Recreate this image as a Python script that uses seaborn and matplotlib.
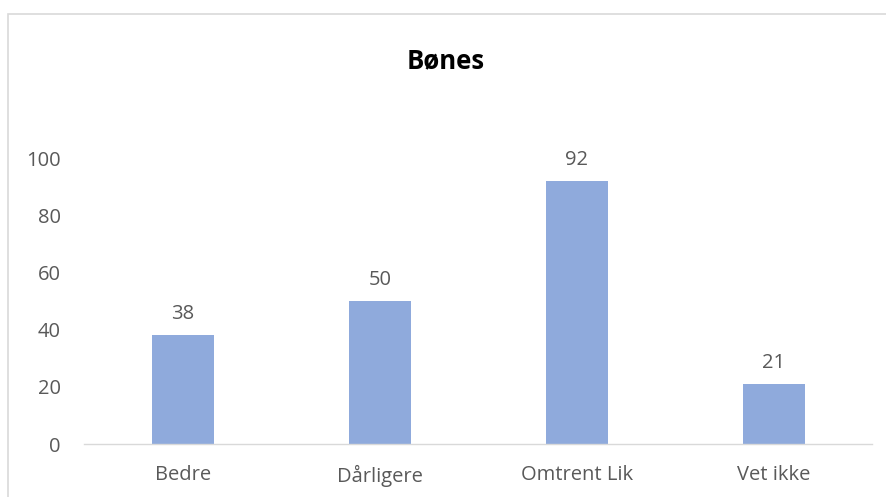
import matplotlib
matplotlib.use("Agg")
import matplotlib.pyplot as plt
import seaborn as sns
import pandas as pd
from matplotlib.patches import Rectangle

categories = ["Bedre", "Dårligere", "Omtrent Lik", "Vet ikke"]
values = [38, 50, 92, 21]
yticks = [0, 20, 40, 60, 80, 100]
title = "Bønes"

sns.set_theme(style="white")
plt.rcParams["font.family"] = ["Open Sans", "DejaVu Sans"]

text_color = "#595959"
bar_color = "#8FAADC"
line_color = "#D9D9D9"

df = pd.DataFrame({"kategori": categories, "antall": values})

fig = plt.figure(figsize=(8.87, 4.97), dpi=100)
ax = fig.add_axes([84.5 / 887, 1 - 444 / 497, (872.5 - 84.5) / 887, (444 - 158) / 497])

sns.barplot(data=df, x="kategori", y="antall", color=bar_color, saturation=1,
            width=0.315, ax=ax, edgecolor="none")

ax.set_ylim(0, 100)
ax.set_xlim(-0.5, len(categories) - 0.5)
ax.set_yticks(yticks)
ax.set_yticklabels([str(t) for t in yticks])
ax.set_xlabel("")
ax.set_ylabel("")
ax.tick_params(axis="both", length=0, colors=text_color, labelsize=14.5)
ax.tick_params(axis="y", pad=17)
ax.tick_params(axis="x", pad=15)
for s in ["top", "right", "left"]:
    ax.spines[s].set_visible(False)
ax.spines["bottom"].set_color(line_color)
ax.spines["bottom"].set_linewidth(1.0)

for container in ax.containers:
    ax.bar_label(container, labels=[str(v) for v in values], padding=8,
                 color=text_color, fontsize=14.5)

fig.text(446 / 887, 1 - 61 / 497, title, ha="center", va="center",
         fontsize=18.5, fontweight="bold", color="black")

border = Rectangle((8 / 887, -0.2), 2.0, 1 - 14 / 497 + 0.2, transform=fig.transFigure,
                   fill=False, edgecolor=line_color, linewidth=1.2, clip_on=False)
fig.patches.append(border)

fig.savefig("out.png", dpi=100, facecolor="white")
